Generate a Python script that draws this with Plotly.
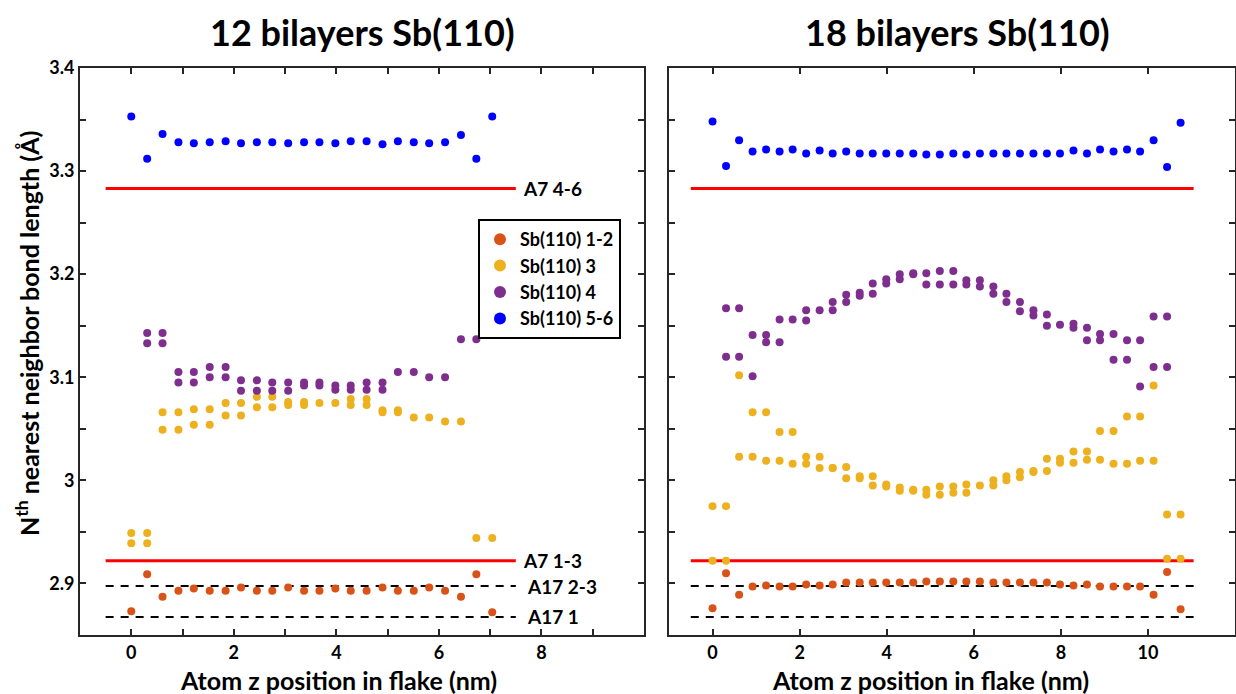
import plotly.graph_objects as go

# ---------------- data ----------------
# atom z positions (nm)
z12 = [0.00, 0.31, 0.61, 0.92, 1.22, 1.53, 1.84, 2.14, 2.45, 2.75, 3.06, 3.37,
       3.67, 3.98, 4.28, 4.59, 4.90, 5.20, 5.51, 5.81, 6.12, 6.43, 6.73, 7.04]
z18 = [0.00, 0.31, 0.61, 0.92, 1.23, 1.54, 1.84, 2.15, 2.46, 2.76, 3.07, 3.38,
       3.68, 3.99, 4.30, 4.61, 4.91, 5.22, 5.53, 5.83, 6.14, 6.45, 6.75, 7.06,
       7.37, 7.68, 7.98, 8.29, 8.60, 8.90, 9.21, 9.52, 9.82, 10.13, 10.44, 10.75]

series_names = ["Sb(110) 1-2", "Sb(110) 3", "Sb(110) 4", "Sb(110) 5-6"]
series_colors = ["#D95319", "#EDB120", "#7E2F8E", "#0000FF"]

# 12 bilayers
l12_nn12 = [2.873, 2.909, 2.887, 2.893, 2.895, 2.893, 2.893, 2.896, 2.893, 2.893, 2.896, 2.893,
            2.893, 2.895, 2.893, 2.893, 2.896, 2.893, 2.893, 2.896, 2.893, 2.887, 2.909, 2.872]
l12_nn3 = [[2.949, 2.939], [2.949, 2.939], [3.066, 3.049], [3.066, 3.049], [3.069, 3.054],
           [3.069, 3.054], [3.075, 3.063], [3.075, 3.063], [3.081, 3.071], [3.081, 3.071],
           [3.076, 3.073], [3.076, 3.073], [3.075], [3.075], [3.079, 3.073], [3.079, 3.073],
           [3.068, 3.066], [3.068, 3.066], [3.061], [3.061], [3.057], [3.057], [2.944], [2.944]]
l12_nn4 = [[], [3.143, 3.133], [3.143, 3.133], [3.105, 3.095], [3.105, 3.095], [3.110, 3.100],
           [3.110, 3.100], [3.097, 3.087], [3.097, 3.087], [3.095, 3.087], [3.095, 3.087],
           [3.095, 3.092], [3.095, 3.092], [3.092, 3.088], [3.092, 3.088], [3.095, 3.088],
           [3.095, 3.088], [3.105], [3.105], [3.100], [3.100], [3.137], [3.137], []]
l12_nn56 = [3.353, 3.312, 3.336, 3.328, 3.327, 3.328, 3.329, 3.327, 3.328, 3.328, 3.327, 3.328,
            3.328, 3.327, 3.329, 3.329, 3.326, 3.329, 3.328, 3.327, 3.328, 3.335, 3.312, 3.353]

# 18 bilayers
l18_nn12 = [2.876, 2.910, 2.889, 2.897, 2.898, 2.897, 2.897, 2.899, 2.898, 2.899, 2.901, 2.901,
            2.901, 2.901, 2.901, 2.901, 2.902, 2.902, 2.902, 2.902, 2.902, 2.901, 2.901, 2.901,
            2.901, 2.901, 2.899, 2.898, 2.899, 2.897, 2.897, 2.897, 2.897, 2.889, 2.911, 2.875]
l18_nn3 = [[2.975, 2.922], [2.975, 2.922], [3.102, 3.023], [3.066, 3.023], [3.066, 3.019],
           [3.047, 3.019], [3.047, 3.016], [3.023, 3.016], [3.023, 3.012], [3.012, 3.012],
           [3.013, 3.002], [3.004, 3.002], [3.004, 2.995], [2.996, 2.994], [2.993, 2.990],
           [2.991, 2.990], [2.991, 2.986], [2.994, 2.986], [2.994, 2.988], [2.996, 2.988],
           [2.995], [3.000, 2.995], [3.004, 3.000], [3.008, 3.003], [3.009, 3.008],
           [3.021, 3.009], [3.021, 3.017], [3.028, 3.017], [3.028, 3.020], [3.048, 3.020],
           [3.048, 3.016], [3.062, 3.016], [3.062, 3.019], [3.092, 3.019], [2.967, 2.924],
           [2.967, 2.924]]
l18_nn4 = [[], [3.167, 3.120], [3.167, 3.120], [3.141, 3.101], [3.141, 3.134], [3.156, 3.134],
           [3.156], [3.165, 3.155], [3.165], [3.173, 3.165], [3.180, 3.173], [3.182, 3.179],
           [3.191, 3.181], [3.195, 3.191], [3.200, 3.195], [3.201, 3.200], [3.201, 3.190],
           [3.203, 3.190], [3.203, 3.190], [3.194, 3.190], [3.194, 3.188], [3.188, 3.181],
           [3.181, 3.173], [3.173, 3.164], [3.165, 3.160], [3.161, 3.150], [3.151],
           [3.152, 3.148], [3.148, 3.136], [3.142, 3.136], [3.142, 3.117], [3.136, 3.117],
           [3.136, 3.091], [3.159, 3.110], [3.159, 3.110], []]
l18_nn56 = [3.348, 3.305, 3.330, 3.319, 3.321, 3.319, 3.321, 3.317, 3.320, 3.317, 3.319, 3.317,
            3.317, 3.317, 3.317, 3.317, 3.316, 3.316, 3.317, 3.316, 3.317, 3.317, 3.317, 3.317,
            3.317, 3.317, 3.317, 3.320, 3.317, 3.321, 3.319, 3.321, 3.319, 3.330, 3.304, 3.347]

# reference bulk bond lengths (Å)
ref_names = ["A7 4-6", "A7 1-3", "A17 2-3", "A17 1"]
ref_values = [3.283, 2.922, 2.8975, 2.8675]
ref_dashed = [False, False, True, True]
ref_label_x = [7.6, 7.6, 7.68, 7.68]
ref_x12 = [-0.5, 7.5]
ref_x18 = [-0.5, 11.05]

panel_titles = ["12 bilayers Sb(110)", "18 bilayers Sb(110)"]
x_title = "Atom z position in flake (nm)"
y_title = "N<sup>th</sup> nearest neighbor bond length (Å)"
y_major = [2.9, 3.0, 3.1, 3.2, 3.3, 3.4]
y_major_text = ["2.9", "3", "3.1", "3.2", "3.3", "3.4"]
y_minor = [2.95, 3.05, 3.15, 3.25, 3.35]
x12_major = [0, 2, 4, 6, 8]
x12_minor = [1, 3, 5, 7, 9]
x18_major = [0, 2, 4, 6, 8, 10]

FONT = "Lato"
AX = "#262626"


def flatten(z, nested):
    xs, ys = [], []
    for zi, vals in zip(z, nested):
        for v in vals:
            xs.append(zi)
            ys.append(v)
    return xs, ys


fig = go.Figure()

panels = [
    ("x", "y", z12, [l12_nn12, l12_nn3, l12_nn4, l12_nn56], ref_x12, True),
    ("x2", "y2", z18, [l18_nn12, l18_nn3, l18_nn4, l18_nn56], ref_x18, False),
]

for xa, ya, z, sers, refx, first in panels:
    for name, val, dashed in zip(ref_names, ref_values, ref_dashed):
        fig.add_trace(go.Scatter(
            x=refx, y=[val, val], mode="lines", xaxis=xa, yaxis=ya, showlegend=False,
            line=dict(color="black" if dashed else "#FF0000", width=2 if dashed else 3,
                      dash="8px,7px" if dashed else "solid"),
            hoverinfo="skip"))
    for k, (name, col, data) in enumerate(zip(series_names, series_colors, sers)):
        if k in (1, 2):
            xs, ys = flatten(z, data)
        else:
            xs, ys = z, data
        fig.add_trace(go.Scatter(
            x=xs, y=ys, mode="markers", name=name, xaxis=xa, yaxis=ya,
            showlegend=first, legendrank=k,
            marker=dict(color=col, size=8, line=dict(width=0))))

W, H = 1236, 694
def px_x(p):
    return p / W
def px_y(p):
    return 1 - p / H

minor_style = dict(ticks="inside", ticklen=6, tickwidth=2, tickcolor=AX, showgrid=False)
common_axis = dict(showline=True, linecolor=AX, linewidth=2, mirror="ticks", ticks="inside",
                   ticklen=6, tickwidth=2, tickcolor=AX, showgrid=False, zeroline=False,
                   tickmode="array",
                   tickfont=dict(family=FONT, size=18, color="black", weight="bold"))

fig.update_layout(
    width=W, height=H, margin=dict(l=0, r=0, t=0, b=0, autoexpand=False),
    paper_bgcolor="white", plot_bgcolor="white",
    xaxis=dict(domain=[px_x(80), px_x(644)], range=[-1, 10], anchor="y",
               tickvals=x12_major, ticktext=[str(v) for v in x12_major],
               minor=dict(tickmode="array", tickvals=x12_minor, **minor_style),
               **common_axis),
    yaxis=dict(domain=[px_y(635), px_y(68)], range=[2.85, 3.4], anchor="x",
               tickvals=y_major, ticktext=y_major_text,
               minor=dict(tickmode="array", tickvals=y_minor, **minor_style),
               **common_axis),
    xaxis2=dict(domain=[px_x(669), px_x(1235)], range=[-1, 12], anchor="y2",
                tickvals=x18_major, ticktext=[str(v) for v in x18_major],
                **common_axis),
    yaxis2=dict(domain=[px_y(635), px_y(68)], range=[2.85, 3.4], anchor="x2",
                tickvals=y_major, showticklabels=False,
                minor=dict(tickmode="array", tickvals=y_minor, **minor_style),
                **common_axis),
    legend=dict(x=px_x(478), y=px_y(219), xanchor="left", yanchor="top",
                bgcolor="white", bordercolor="black", borderwidth=2,
                font=dict(family=FONT, size=18, color="black", weight="bold"),
                traceorder="normal", itemsizing="constant", itemwidth=30,
                tracegroupgap=0),
    font=dict(family=FONT, color="black"),
)

ann = []
for title, cx in zip(panel_titles, [362, 957]):
    ann.append(dict(text=title, x=px_x(cx), y=px_y(32), xref="paper", yref="paper",
                    showarrow=False, xanchor="center", yanchor="middle",
                    font=dict(family=FONT, size=36, weight="bold", color="black")))
for cx in [338, 930]:
    ann.append(dict(text=x_title, x=px_x(cx), y=px_y(680), xref="paper", yref="paper",
                    showarrow=False, xanchor="center", yanchor="middle",
                    font=dict(family=FONT, size=25, weight="bold", color="black")))
ann.append(dict(text=y_title, x=px_x(27), y=px_y(334), xref="paper", yref="paper",
                showarrow=False, xanchor="center", yanchor="middle", textangle=-90,
                font=dict(family=FONT, size=25, weight="bold", color="black")))
for name, val, lx in zip(ref_names, ref_values, ref_label_x):
    ann.append(dict(text=name, x=lx, y=val, xref="x", yref="y", showarrow=False,
                    xanchor="left", yanchor="middle",
                    font=dict(family=FONT, size=19, weight="bold", color="black")))
fig.update_layout(annotations=ann)

fig.write_html("out.html", config={"displayModeBar": False},
               post_script="document.body.style.margin='0px';"
                           "document.body.style.overflow='hidden';")
